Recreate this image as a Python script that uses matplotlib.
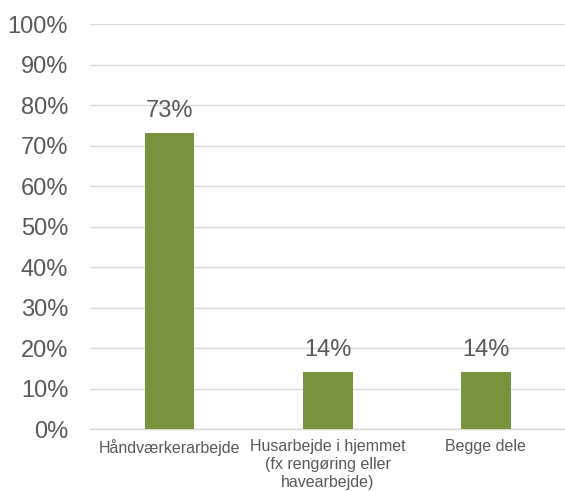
import matplotlib
matplotlib.use("Agg")
import matplotlib.pyplot as plt
from matplotlib.ticker import PercentFormatter

plt.rcParams['font.family'] = ['Liberation Sans', 'DejaVu Sans']

categories = ["Håndværkerarbejde", "Husarbejde i hjemmet\n(fx rengøring eller\nhavearbejde)", "Begge dele"]
values = [0.73, 0.14, 0.14]
labels = ["73%", "14%", "14%"]

BAR = '#77933C'
TXT = '#595959'
GRID = '#D9D9D9'

fig = plt.figure(figsize=(5.65, 4.91), dpi=100)
ax = fig.add_axes([0.160, 0.126, 0.840, 0.825])

x = range(len(categories))
ax.bar(x, values, width=0.315, color=BAR, zorder=3)
for i, v in enumerate(values):
    ax.text(i, v + 0.027, labels[i], ha='center', va='bottom', fontsize=17, color=TXT)

ax.set_xlim(-0.5, len(categories) - 0.5)
ax.set_ylim(0, 1.0)
ax.set_yticks([i / 10 for i in range(11)])
ax.yaxis.set_major_formatter(PercentFormatter(1.0, decimals=0))
ax.set_xticks(list(x))
ax.set_xticklabels(categories, fontsize=11.5, color=TXT, linespacing=1.25)
ax.tick_params(axis='y', labelsize=17, labelcolor=TXT, length=0, pad=16)
ax.tick_params(axis='x', length=0, pad=7)

ax.grid(axis='y', color=GRID, linewidth=1, zorder=0)
for s in ['top', 'right', 'left']:
    ax.spines[s].set_visible(False)
ax.spines['bottom'].set_color(GRID)
ax.spines['bottom'].set_linewidth(1)

fig.savefig("out.png", dpi=100)
